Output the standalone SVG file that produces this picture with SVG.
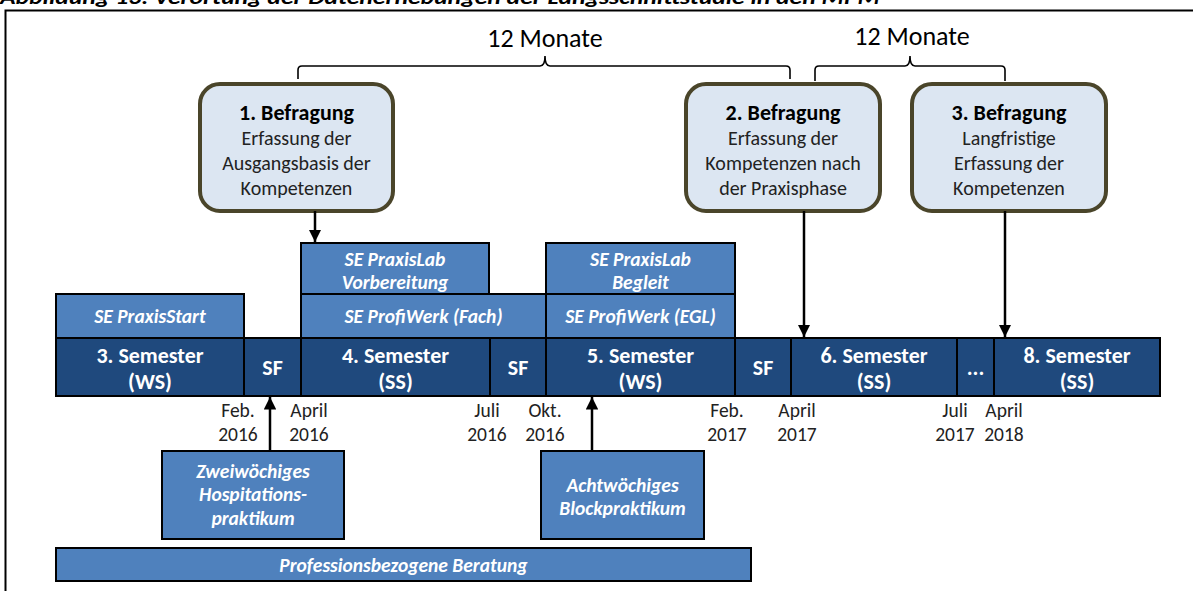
<svg xmlns="http://www.w3.org/2000/svg" width="1193" height="591" viewBox="0 0 1193 591">
<defs>
<style>
text{font-family:Carlito,Lato,"Open Sans",sans-serif;}
.title{font-size:21px;font-weight:bold;font-style:italic;fill:#000;}
.mon{font-size:26px;fill:#000;text-anchor:middle;}
.bq{fill:#DCE6F2;stroke:#4A452A;stroke-width:4;}
.bh{font-size:22px;font-weight:bold;fill:#000;text-anchor:middle;}
.bt{font-size:20px;fill:#222;text-anchor:middle;}
.mid{fill:#4F81BD;stroke:#000;stroke-width:2;}
.dark{fill:#1F497D;stroke:#000;stroke-width:2;}
.mt{font-size:19.5px;font-weight:bold;font-style:italic;fill:#fff;text-anchor:middle;}
.st{font-size:22px;font-weight:bold;fill:#fff;text-anchor:middle;}
.dt{font-size:19.5px;fill:#222;text-anchor:middle;}
.br{fill:none;stroke:#000;stroke-width:1.6;}
.ar{stroke:#000;stroke-width:2.5;fill:none;}
</style>
<marker id="ah" viewBox="0 0 10 10" refX="10" refY="5" markerWidth="5" markerHeight="5" orient="auto" markerUnits="strokeWidth">
<path d="M0,0 L10,5 L0,10 z" fill="#000"/>
</marker>
</defs>
<rect width="1193" height="591" fill="#fff"/>
<text class="title" x="0" y="4" textLength="880" lengthAdjust="spacingAndGlyphs">Abbildung 13: Verortung der Datenerhebungen der Längsschnittstudie in den MPM</text>
<path d="M5.5,591 V10.5 H1193" fill="none" stroke="#000" stroke-width="2"/>

<g id="braces">
<text class="mon" x="545" y="47">12 Monate</text>
<path class="br" d="M298,79 V70 Q298,66 302,66 H540 Q545,66 545,56 Q545,66 550,66 H786 Q790,66 790,70 V79"/>
<text class="mon" x="912" y="45">12 Monate</text>
<path class="br" d="M815,81 V70 Q815,66 819,66 H905 Q910,66 910,56 Q910,66 915,66 H1001 Q1005,66 1005,70 V81"/>
</g>

<g id="befragung1">
<rect class="bq" x="200" y="84" width="193" height="127" rx="20"/>
<text class="bh" x="296.5" y="120">1. Befragung</text>
<text class="bt" x="296.5" y="145">Erfassung der</text>
<text class="bt" x="296.5" y="170">Ausgangsbasis der</text>
<text class="bt" x="296.5" y="195">Kompetenzen</text>
</g>
<g id="befragung2">
<rect class="bq" x="686" y="84" width="194" height="127" rx="20"/>
<text class="bh" x="783" y="120">2. Befragung</text>
<text class="bt" x="783" y="145">Erfassung der</text>
<text class="bt" x="783" y="170">Kompetenzen nach</text>
<text class="bt" x="783" y="195">der Praxisphase</text>
</g>
<g id="befragung3">
<rect class="bq" x="912" y="84" width="194" height="127" rx="20"/>
<text class="bh" x="1009" y="120">3. Befragung</text>
<text class="bt" x="1009" y="145">Langfristige</text>
<text class="bt" x="1009" y="170">Erfassung der</text>
<text class="bt" x="1009" y="195">Kompetenzen</text>
</g>

<g id="seminare">
<rect class="mid" x="301" y="243" width="188" height="51"/>
<text class="mt" x="395" y="266">SE PraxisLab</text>
<text class="mt" x="395" y="289">Vorbereitung</text>
<rect class="mid" x="546" y="243" width="189" height="51"/>
<text class="mt" x="640.5" y="266">SE PraxisLab</text>
<text class="mt" x="640.5" y="289">Begleit</text>
<rect class="mid" x="56" y="294" width="188" height="44"/>
<text class="mt" x="150" y="323">SE PraxisStart</text>
<rect class="mid" x="301" y="294" width="245" height="44"/>
<text class="mt" x="423.5" y="323">SE ProfiWerk (Fach)</text>
<rect class="mid" x="546" y="294" width="189" height="44"/>
<text class="mt" x="640.5" y="323">SE ProfiWerk (EGL)</text>
</g>

<g id="semester">
<rect class="dark" x="56" y="338" width="188" height="58"/>
<text class="st" x="150" y="363">3. Semester</text>
<text class="st" x="150" y="389">(WS)</text>
<rect class="dark" x="244" y="338" width="57" height="58"/>
<text class="st" x="272.5" y="375">SF</text>
<rect class="dark" x="301" y="338" width="189" height="58"/>
<text class="st" x="395.5" y="363">4. Semester</text>
<text class="st" x="395.5" y="389">(SS)</text>
<rect class="dark" x="490" y="338" width="56" height="58"/>
<text class="st" x="518" y="375">SF</text>
<rect class="dark" x="546" y="338" width="189" height="58"/>
<text class="st" x="640.5" y="363">5. Semester</text>
<text class="st" x="640.5" y="389">(WS)</text>
<rect class="dark" x="735" y="338" width="56" height="58"/>
<text class="st" x="763" y="375">SF</text>
<rect class="dark" x="791" y="338" width="166" height="58"/>
<text class="st" x="874" y="363">6. Semester</text>
<text class="st" x="874" y="389">(SS)</text>
<rect class="dark" x="957" y="338" width="37" height="58"/>
<text class="st" x="975.5" y="375">...</text>
<rect class="dark" x="994" y="338" width="166" height="58"/>
<text class="st" x="1077" y="363">8. Semester</text>
<text class="st" x="1077" y="389">(SS)</text>
</g>

<g id="daten">
<text class="dt" x="238" y="417">Feb.</text><text class="dt" x="238" y="441">2016</text>
<text class="dt" x="309" y="417">April</text><text class="dt" x="309" y="441">2016</text>
<text class="dt" x="487" y="417">Juli</text><text class="dt" x="487" y="441">2016</text>
<text class="dt" x="545" y="417">Okt.</text><text class="dt" x="545" y="441">2016</text>
<text class="dt" x="727" y="417">Feb.</text><text class="dt" x="727" y="441">2017</text>
<text class="dt" x="797" y="417">April</text><text class="dt" x="797" y="441">2017</text>
<text class="dt" x="955" y="417">Juli</text><text class="dt" x="955" y="441">2017</text>
<text class="dt" x="1004" y="417">April</text><text class="dt" x="1004" y="441">2018</text>
</g>

<g id="praktikum1">
<rect class="mid" x="162" y="451" width="182" height="88"/>
<text class="mt" x="253" y="478">Zweiwöchiges</text>
<text class="mt" x="253" y="501">Hospitations-</text>
<text class="mt" x="253" y="525">praktikum</text>
</g>
<g id="praktikum2">
<rect class="mid" x="541" y="451" width="163" height="88"/>
<text class="mt" x="622.5" y="492">Achtwöchiges</text>
<text class="mt" x="622.5" y="515">Blockpraktikum</text>
</g>
<g id="beratung">
<rect class="mid" x="56" y="548" width="695" height="33"/>
<text class="mt" x="403.5" y="572">Professionsbezogene Beratung</text>
</g>

<g id="connectors">
<line class="ar" x1="315" y1="211" x2="315" y2="242" marker-end="url(#ah)"/>
<line class="ar" x1="804" y1="211" x2="804" y2="337" marker-end="url(#ah)"/>
<line class="ar" x1="1005" y1="211" x2="1005" y2="337" marker-end="url(#ah)"/>
<line class="ar" x1="270" y1="451" x2="270" y2="397" marker-end="url(#ah)"/>
<line class="ar" x1="592" y1="451" x2="592" y2="397" marker-end="url(#ah)"/>
</g>
</svg>
